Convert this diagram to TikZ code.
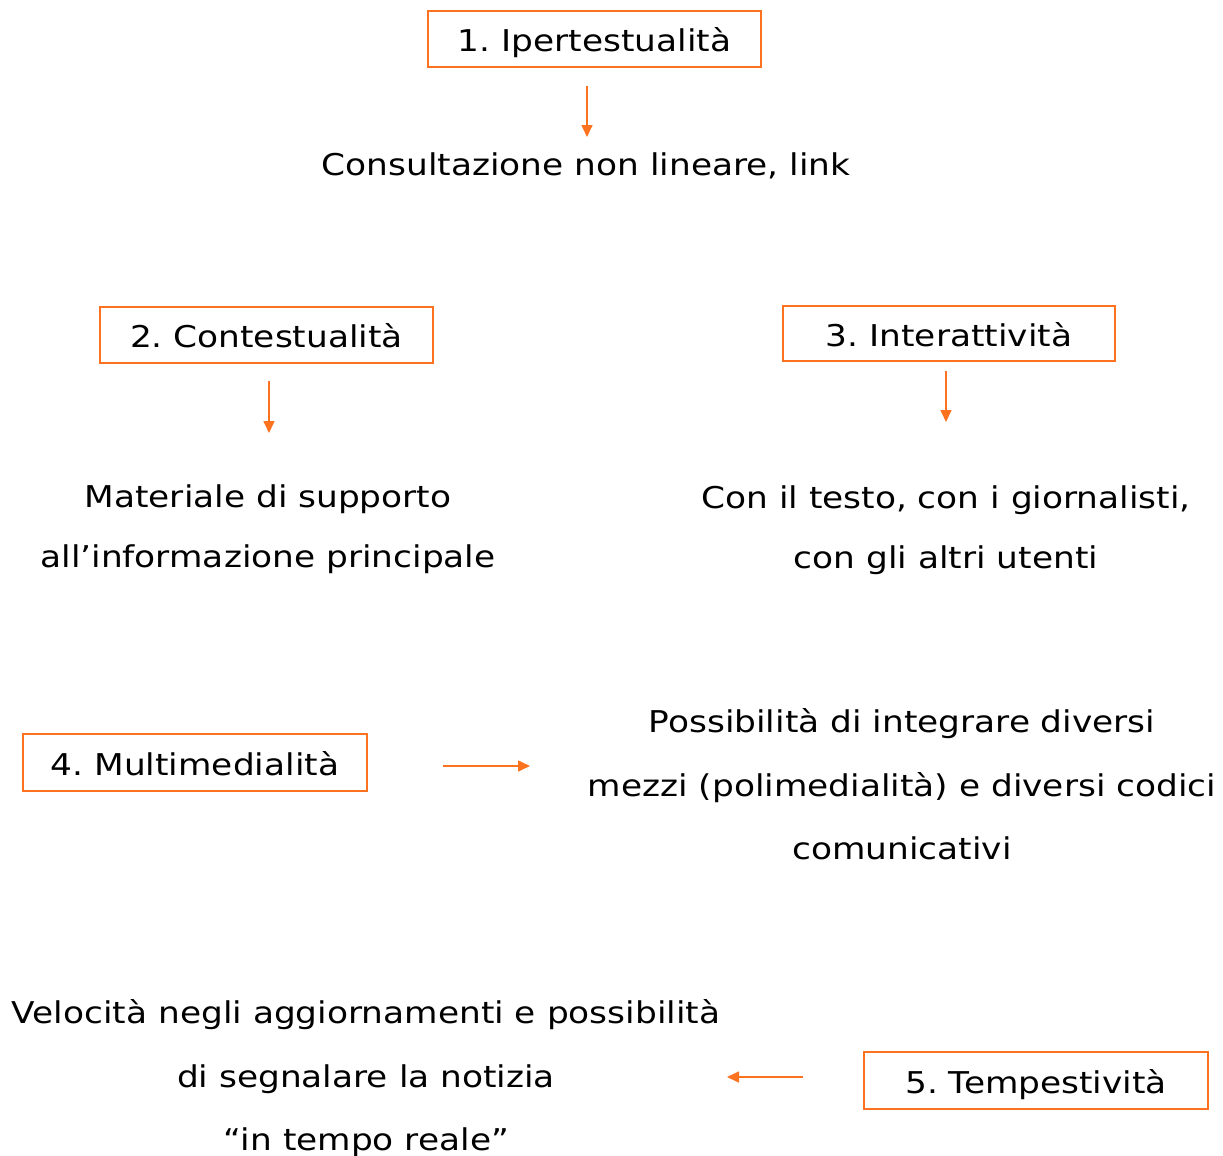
\documentclass[tikz,border=0pt]{standalone}
\usepackage{fontspec}
\setmainfont{DejaVu Sans}[FakeStretch=1.145]
\usetikzlibrary{arrows.meta}
\definecolor{orng}{RGB}{252,114,30}
\frenchspacing
\tikzset{
  x=1pt, y=-1pt,
  box/.style={draw=orng, line width=2pt, inner sep=0pt, text height=25pt, text depth=0pt, font=\fontsize{30}{36}\selectfont},
  txt/.style={anchor=base, inner sep=0pt, font=\fontsize{30}{36}\selectfont},
  arr/.style={draw=orng, line width=1.6pt, -{Triangle[length=12pt,width=11pt]}}
}
\begin{document}
\begin{tikzpicture}
\useasboundingbox (0,0) rectangle (1223,1156);
% boxes
\node[box, minimum width=333pt, minimum height=56pt] (b1) at (594.5,39) {1. Ipertestualità};
\node[box, minimum width=333pt, minimum height=56pt] (b2) at (266.5,335) {2. Contestualità};
\node[box, minimum width=332pt, minimum height=55pt] (b3) at (949,333.5) {3. Interattività};
\node[box, minimum width=344pt, minimum height=57pt] (b4) at (195,762.5) {4. Multimedialità};
\node[box, minimum width=344pt, minimum height=57pt] (b5) at (1036,1080.5) {5. Tempestività};
% texts
\node[txt] (t1) at (586,175) {Consultazione non lineare, link};
\node[txt] (t2a) at (268,507) {Materiale di supporto};
\node[txt] (t2b) at (268,567) {all’informazione principale};
\node[txt] (t3a) at (946,508) {Con il testo, con i giornalisti,};
\node[txt] (t3b) at (946,568) {con gli altri utenti};
\node[txt] (t4a) at (902,732) {Possibilità di integrare diversi};
\node[txt] (t4b) at (902,796) {mezzi (polimedialità) e diversi codici};
\node[txt] (t4c) at (902,859) {comunicativi};
\node[txt] (t5a) at (366,1023) {Velocità negli aggiornamenti e possibilità};
\node[txt] (t5b) at (366,1087) {di segnalare la notizia};
\node[txt] (t5c) at (366,1150) {“in tempo reale”};
% arrow endpoints
\coordinate (a1s) at (587,86);  \coordinate (a1e) at (587,137);
\coordinate (a2s) at (269,381); \coordinate (a2e) at (269,433);
\coordinate (a3s) at (946,371); \coordinate (a3e) at (946,422);
\coordinate (a4s) at (443,766); \coordinate (a4e) at (530,766);
\coordinate (a5s) at (803,1077); \coordinate (a5e) at (727,1077);
\draw[arr] (a1s) -- (a1e);
\draw[arr] (a2s) -- (a2e);
\draw[arr] (a3s) -- (a3e);
\draw[arr] (a4s) -- (a4e);
\draw[arr] (a5s) -- (a5e);
\end{tikzpicture}
\end{document}
